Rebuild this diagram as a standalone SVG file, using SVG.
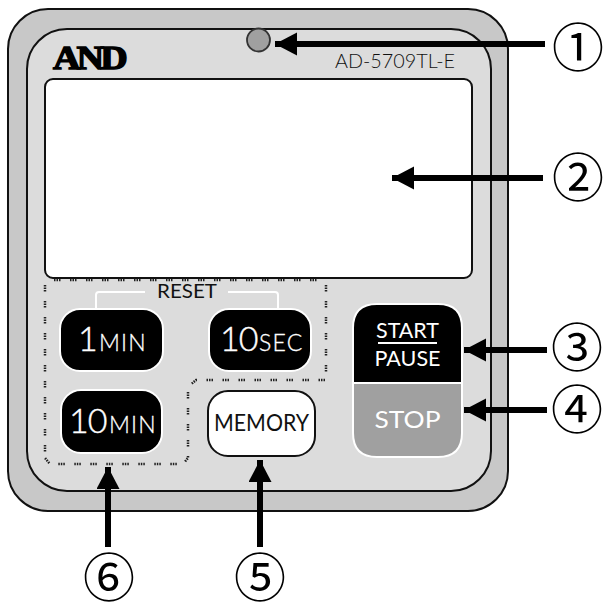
<svg xmlns="http://www.w3.org/2000/svg" width="611" height="614" viewBox="0 0 611 614">
<style>
.btn{fill:#000;stroke:#fff;stroke-width:2}
.lbl{font-family:"Lato","Liberation Sans",sans-serif;font-weight:400}
.big{font-size:34px;font-weight:300;stroke:#fff;stroke-width:.4px}
.sm{font-size:23px;letter-spacing:1.200px;font-weight:300;stroke:#fff;stroke-width:.3px}
.w{fill:#fff}
.k{fill:#111}
.dots{fill:none;stroke:#222;stroke-width:2.500;stroke-dasharray:1.500 1 1.500 1 1.500 9.500}
.arr{stroke:#000;stroke-width:6;fill:none;marker-end:url(#head)}
.num{font-family:"Noto Sans CJK JP",sans-serif;font-size:52px;fill:#000;text-anchor:middle}
</style>
<defs>
<marker id="head" markerUnits="userSpaceOnUse" markerWidth="24" markerHeight="24" refX="22" refY="11.500" orient="auto">
<path d="M0 0L22 11.500L0 23Z" fill="#000"/>
</marker>
</defs>
<rect width="611" height="614" fill="#fff"/>
<g id="case">
<rect x="8" y="9" width="500" height="502" rx="40" fill="#c8c8c8" stroke="#111" stroke-width="2"/>
<rect x="27" y="29" width="464" height="462" rx="40" fill="#dcdcdc" stroke="#111" stroke-width="2"/>
</g>
<g id="logo"><text transform="translate(53 69) scale(1.12 1)" font-family="Liberation Serif" font-weight="700" font-size="34" letter-spacing="-3.5" stroke="#000" stroke-width="1.400">AND</text></g>
<g id="model"><text x="335" y="68" class="lbl k" font-size="20" textLength="120" lengthAdjust="spacingAndGlyphs" style="font-weight:300">AD-5709TL-E</text></g>
<g id="led"><circle cx="258.500" cy="40" r="11.500" fill="#a0a0a0" stroke="#333" stroke-width="1.800"/></g>
<g id="display"><rect x="45" y="79" width="427" height="199" rx="8" fill="#fff" stroke="#111" stroke-width="2"/></g>
<g id="groupings">
<path class="dots" d="M54 280H326"/>
<path class="dots" d="M326 285V374"/>
<path class="dots" d="M325 380H196L189 386"/>
<path class="dots" d="M188 392V458L183 464H50L45 458"/>
<path class="dots" d="M45 285V455"/>
</g>
<g id="reset">
<path d="M145 292H99Q96 292 96 295V308M228 292H275Q278 292 278 295V308" fill="none" stroke="#fff" stroke-width="2"/>
<text x="187" y="298" class="lbl k" font-size="19" text-anchor="middle" textLength="60" lengthAdjust="spacingAndGlyphs">RESET</text>
</g>
<g id="btn-1min">
<rect class="btn" x="60" y="309" width="103" height="62" rx="20"/>
<text class="lbl w" y="351"><tspan class="big" x="78">1</tspan><tspan class="sm" x="99">MIN</tspan></text>
</g>
<g id="btn-10sec">
<rect class="btn" x="209" y="309" width="102" height="62" rx="20"/>
<text class="lbl w" y="351"><tspan class="big" x="220" letter-spacing="-1">10</tspan><tspan class="sm" x="259">SEC</tspan></text>
</g>
<g id="btn-10min">
<rect class="btn" x="61" y="390" width="101" height="63" rx="20"/>
<text class="lbl w" y="433"><tspan class="big" x="69" letter-spacing="-1">10</tspan><tspan class="sm" x="109">MIN</tspan></text>
</g>
<g id="btn-memory">
<rect x="208" y="391" width="107" height="65" rx="20" fill="#fff" stroke="#111" stroke-width="2"/>
<text x="261.500" y="431" class="lbl k" font-size="24" text-anchor="middle" textLength="95" lengthAdjust="spacingAndGlyphs">MEMORY</text>
</g>
<g id="btn-start-pause">
<path d="M353 383V328Q353 304 377 304H438Q462 304 462 328V383Z" fill="#000" stroke="#fff" stroke-width="2"/>
<text x="407.500" y="338" class="lbl w" font-size="21" text-anchor="middle" textLength="63" lengthAdjust="spacingAndGlyphs">START</text>
<path d="M378 343H437" stroke="#fff" stroke-width="2"/>
<text x="407.500" y="366" class="lbl w" font-size="21" text-anchor="middle" textLength="66" lengthAdjust="spacingAndGlyphs">PAUSE</text>
</g>
<g id="btn-stop">
<path d="M353 383V433Q353 457 377 457H438Q462 457 462 433V383Z" fill="#a0a0a0" stroke="#fff" stroke-width="2"/>
<text x="407.500" y="428" class="lbl w" font-size="24" text-anchor="middle" textLength="66" lengthAdjust="spacingAndGlyphs">STOP</text>
</g>
<g id="connectors">
<path class="arr" d="M545 44H275"/>
<path class="arr" d="M543 178H392"/>
<path class="arr" d="M547 350H464"/>
<path class="arr" d="M547 410H464"/>
<path class="arr" d="M260 547V460"/>
<path class="arr" d="M108 547V467"/>
</g>
<g id="callouts">
<text id="n1" class="num" x="578" y="67">①</text>
<text id="n2" class="num" x="578" y="197">②</text>
<text id="n3" class="num" x="577" y="367">③</text>
<text id="n4" class="num" x="577" y="429">④</text>
<text id="n5" class="num" x="260" y="597">⑤</text>
<text id="n6" class="num" x="109" y="597">⑥</text>
</g>
</svg>
